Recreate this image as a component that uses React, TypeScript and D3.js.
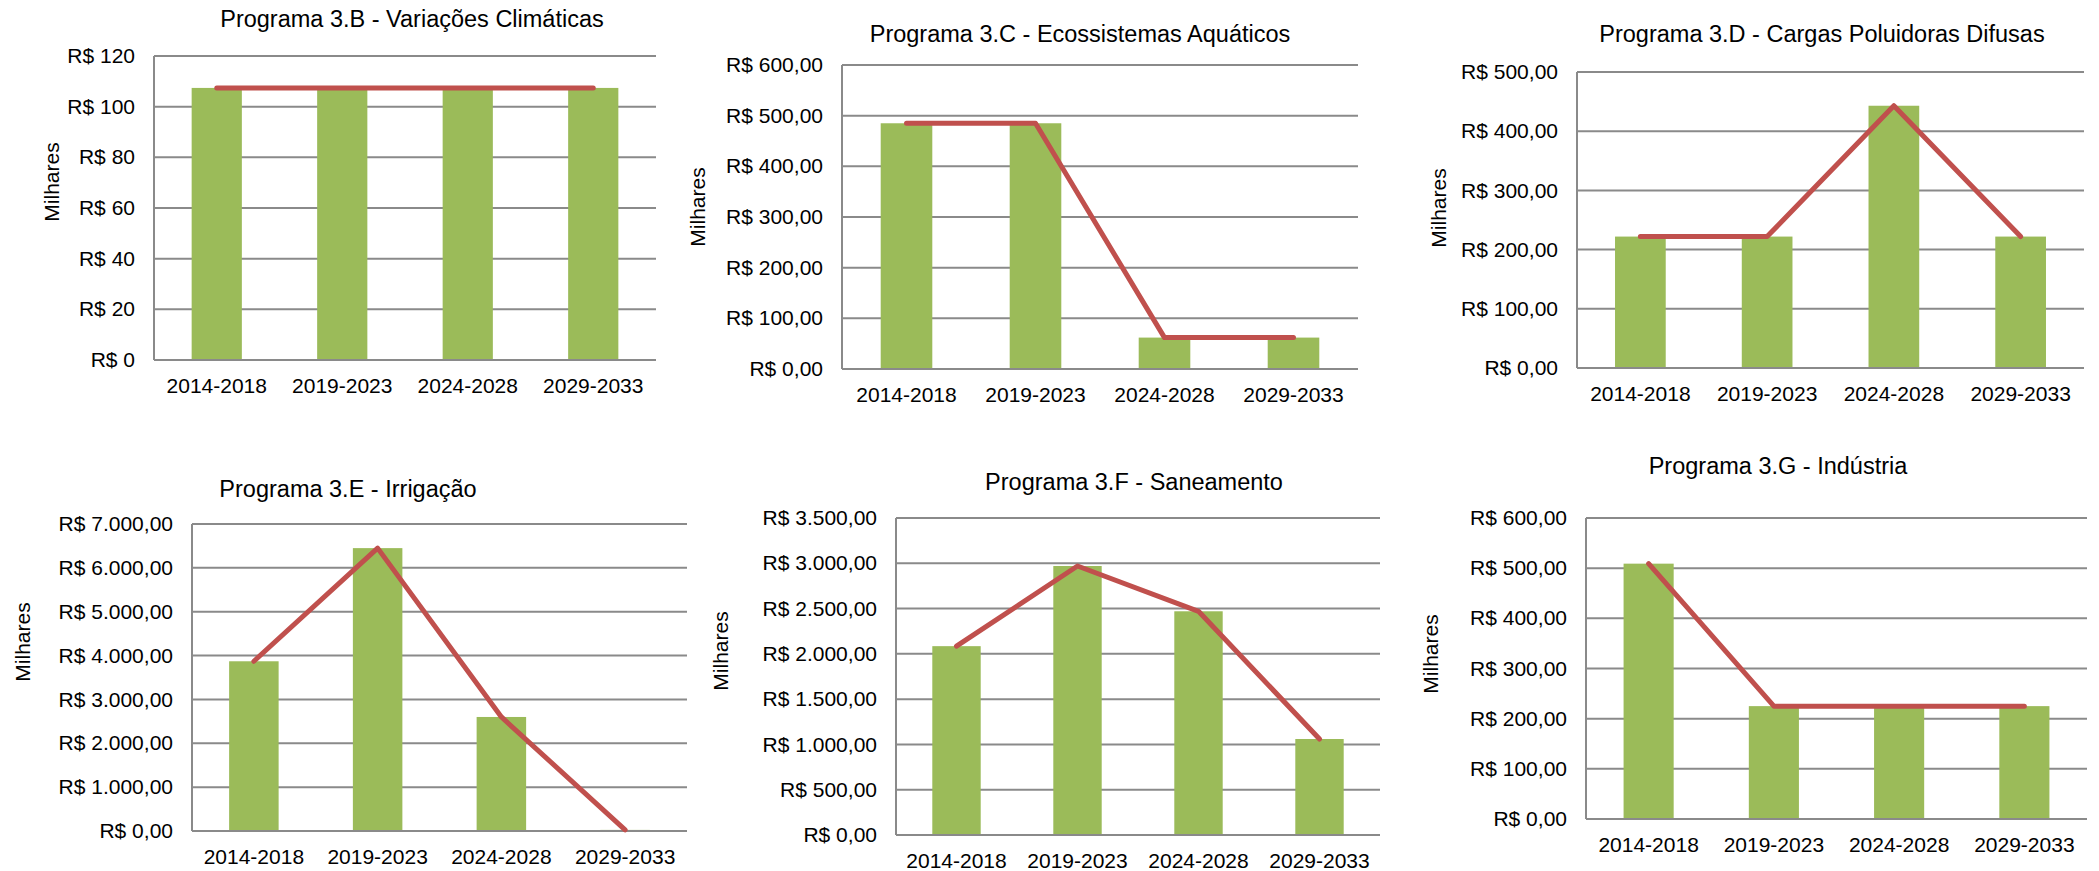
import React, { useEffect } from 'react';
import * as d3 from 'd3';

const categories = ['2014-2018', '2019-2023', '2024-2028', '2029-2033'];

const valuesB = [107.4, 107.4, 107.4, 107.4];
const valuesC = [485, 485, 62, 62];
const valuesD = [222, 222, 443, 222];
const valuesE = [3870, 6450, 2600, 25];
const valuesF = [2085, 2970, 2470, 1060];
const valuesG = [509, 225, 225, 225];

const ticksB = [0, 20, 40, 60, 80, 100, 120];
const ticksC = [0, 100, 200, 300, 400, 500, 600];
const ticksD = [0, 100, 200, 300, 400, 500];
const ticksE = [0, 1000, 2000, 3000, 4000, 5000, 6000, 7000];
const ticksF = [0, 500, 1000, 1500, 2000, 2500, 3000, 3500];
const ticksG = [0, 100, 200, 300, 400, 500, 600];

const titles = [
  'Programa 3.B - Variações Climáticas',
  'Programa 3.C - Ecossistemas Aquáticos',
  'Programa 3.D - Cargas Poluidoras Difusas',
  'Programa 3.E - Irrigação',
  'Programa 3.F - Saneamento',
  'Programa 3.G - Indústria',
];

const yAxisLabel = 'Milhares';

const ptBR = d3.formatLocale({
  decimal: ',',
  thousands: '.',
  grouping: [3],
  currency: ['R$ ', ''],
});
const fmtInt = (v: number) => 'R$ ' + ptBR.format(',d')(v);
const fmtDec = (v: number) => 'R$ ' + ptBR.format(',.2f')(v);

const FONT = '"Liberation Sans", Arial, Helvetica, sans-serif';
const GRID = '#8a8a8a';
const BAR = '#9BBB59';
const LINE = '#C0504D';

type Layout = {
  left: number; right: number; top: number; bottom: number;
  titleX: number; titleY: number; milX: number; milY: number;
};

const charts: { title: string; values: number[]; ticks: number[]; fmt: (v: number) => string; layout: Layout }[] = [
  { title: titles[0], values: valuesB, ticks: ticksB, fmt: fmtInt,
    layout: { left: 154, right: 656, top: 56, bottom: 360, titleX: 412, titleY: 27, milX: 51, milY: 182 } },
  { title: titles[1], values: valuesC, ticks: ticksC, fmt: fmtDec,
    layout: { left: 842, right: 1358, top: 65, bottom: 369, titleX: 1080, titleY: 42, milX: 697, milY: 207 } },
  { title: titles[2], values: valuesD, ticks: ticksD, fmt: fmtDec,
    layout: { left: 1577, right: 2084, top: 72, bottom: 368, titleX: 1822, titleY: 42, milX: 1438, milY: 208 } },
  { title: titles[3], values: valuesE, ticks: ticksE, fmt: fmtDec,
    layout: { left: 192, right: 687, top: 524, bottom: 831, titleX: 348, titleY: 497, milX: 22, milY: 642 } },
  { title: titles[4], values: valuesF, ticks: ticksF, fmt: fmtDec,
    layout: { left: 896, right: 1380, top: 518, bottom: 835, titleX: 1134, titleY: 490, milX: 720, milY: 651 } },
  { title: titles[5], values: valuesG, ticks: ticksG, fmt: fmtDec,
    layout: { left: 1586, right: 2087, top: 518, bottom: 819, titleX: 1778, titleY: 474, milX: 1430, milY: 654 } },
];

function Chart({ title, values, ticks, fmt, layout }: typeof charts[number]) {
  const { left, right, top, bottom } = layout;
  const x = d3.scaleBand<string>().domain(categories).range([left, right]).paddingInner(0.6).paddingOuter(0.3);
  const y = d3.scaleLinear().domain([0, ticks[ticks.length - 1]]).range([bottom, top]);
  const cx = (c: string) => (x(c) as number) + x.bandwidth() / 2;
  const line = d3.line<number>()
    .x((_, i) => cx(categories[i]))
    .y((v) => y(v));
  return (
    <g>
      <text x={layout.titleX} y={layout.titleY} textAnchor="middle" fontSize={23.5} fontFamily={FONT} fill="#000">{title}</text>
      <text transform={`translate(${layout.milX},${layout.milY}) rotate(-90)`} textAnchor="middle" dominantBaseline="central" fontSize={21} fontFamily={FONT} fill="#000">{yAxisLabel}</text>
      {ticks.map((t) => (
        <g key={t}>
          <line x1={left} x2={right} y1={y(t)} y2={y(t)} stroke={GRID} strokeWidth={2} />
          <text x={left - 19} y={y(t)} dy="0.34em" textAnchor="end" fontSize={21} fontFamily={FONT} fill="#000">{fmt(t)}</text>
        </g>
      ))}
      <line x1={left} x2={left} y1={top} y2={bottom} stroke={GRID} strokeWidth={2} />
      {values.map((v, i) => (
        <rect key={i} x={x(categories[i])} y={y(v)} width={x.bandwidth()} height={bottom - y(v)} fill={BAR} />
      ))}
      <line x1={left} x2={right} y1={bottom} y2={bottom} stroke={GRID} strokeWidth={2} />
      <path d={line(values) || ''} fill="none" stroke={LINE} strokeWidth={5} strokeLinecap="round" strokeLinejoin="round" />
      {categories.map((c) => (
        <text key={c} x={cx(c)} y={bottom + 33} textAnchor="middle" fontSize={21} fontFamily={FONT} fill="#000">{c}</text>
      ))}
    </g>
  );
}

export default function App() {
  useEffect(() => {
    document.body.style.margin = '0';
  }, []);
  return (
    <svg width={2099} height={871} viewBox="0 0 2099 871" style={{ display: 'block', background: '#fff' }}>
      <rect x={0} y={0} width={2099} height={871} fill="#fff" />
      {charts.map((c, i) => (
        <Chart key={i} {...c} />
      ))}
    </svg>
  );
}
